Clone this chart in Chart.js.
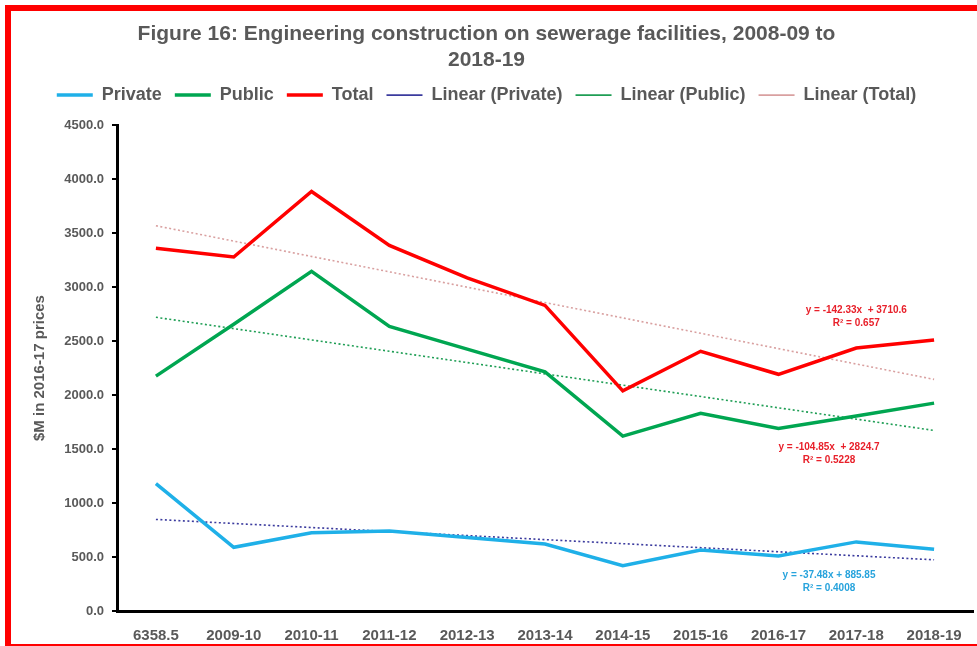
<!DOCTYPE html>
<html>
<head>
<meta charset="utf-8">
<script src="https://cdn.jsdelivr.net/npm/chart.js@4"></script>
<style>
  html, body { margin: 0; padding: 0; background: #fff; }
  body { width: 977px; height: 646px; overflow: hidden; position: relative; }
  #frame {
    position: absolute; left: 5px; top: 5px; width: 980px; height: 641px;
    border-top: 6px solid #ff0000; border-left: 6px solid #ff0000; border-bottom: 2px solid #ff0000;
    box-sizing: border-box;
  }
  #wrap { position: absolute; left: 0; top: 0; width: 977px; height: 646px; }
</style>
</head>
<body>
<div id="frame"></div>
<div id="wrap"><canvas id="chart" width="977" height="646"></canvas></div>
<script>
// categories (first label is printed that way in the source figure)
const years = ["6358.5", "2009-10", "2010-11", "2011-12", "2012-13", "2013-14",
               "2014-15", "2015-16", "2016-17", "2017-18", "2018-19"];

// $M in 2016-17 prices
const privateVals = [1180, 590, 725, 740, 680, 620, 420, 565, 510, 640, 572];
const publicVals  = [2175, 2655, 3145, 2635, 2425, 2215, 1620, 1830, 1690, 1805, 1925];
const totalVals   = [3360, 3278, 3885, 3385, 3085, 2830, 2038, 2405, 2192, 2435, 2510];

// linear trend lines: value at first and last category
const privateTrend = [848, 474];
const publicTrend  = [2720, 1672];
const totalTrend   = [3568, 2145];

// trend equations printed on the figure
const privateEq = ["y = -37.48x + 885.85", "R\u00B2 = 0.4008"];
const publicEq  = ["y = -104.85x  + 2824.7", "R\u00B2 = 0.5228"];
const totalEq   = ["y = -142.33x  + 3710.6", "R\u00B2 = 0.657"];

const yTicks = [0, 500, 1000, 1500, 2000, 2500, 3000, 3500, 4000, 4500];

const GREY = "#595959";
const FONT = "'Liberation Sans', Arial, sans-serif";

function endpoints(pair) {
  return years.map((_, i) => i === 0 ? pair[0] : (i === years.length - 1 ? pair[1] : null));
}

function lineSet(label, data, color) {
  return {
    label, data, borderColor: color, backgroundColor: color,
    borderWidth: 3.5, pointRadius: 0, tension: 0, fill: false
  };
}

function trendSet(label, pair, color) {
  return {
    label, data: endpoints(pair), borderColor: color, backgroundColor: color,
    borderWidth: 1.6, borderDash: [2, 2.5], pointRadius: 0, spanGaps: true, fill: false
  };
}

// extra room under the legend, so the plot starts lower like the original
const legendGap = {
  id: "legendGap",
  beforeUpdate(chart) {
    const lg = chart.legend;
    if (!lg || lg._gapped) return;
    const fit = lg.fit;
    lg.fit = function () {
      fit.call(this);
      this.height += 11;
    };
    lg._gapped = true;
  }
};

// draws the trend equations next to the lines
const equationLabels = {
  id: "equationLabels",
  afterDatasetsDraw(chart) {
    const { ctx, scales: { x, y } } = chart;
    const items = [
      { text: totalEq, color: "#e8202a", at: 9.0, v: 2782 },
      { text: publicEq, color: "#e8202a", at: 8.65, v: 1516 },
      { text: privateEq, color: "#27a3dc", at: 8.65, v: 333 }
    ];
    ctx.save();
    ctx.font = "bold 10px " + FONT;
    ctx.textAlign = "center";
    ctx.textBaseline = "middle";
    items.forEach(it => {
      const i0 = Math.floor(it.at);
      const px = x.getPixelForValue(i0) + (x.getPixelForValue(i0 + 1) - x.getPixelForValue(i0)) * (it.at - i0);
      ctx.fillStyle = it.color;
      ctx.fillText(it.text[0], px, y.getPixelForValue(it.v));
      ctx.fillText(it.text[1], px, y.getPixelForValue(it.v) + 13);
    });
    ctx.restore();
  }
};

new Chart(document.getElementById("chart"), {
  type: "line",
  data: {
    labels: years,
    datasets: [
      lineSet("Private", privateVals, "#1fb0e8"),
      lineSet("Public", publicVals, "#00a651"),
      lineSet("Total", totalVals, "#ff0000"),
      trendSet("Linear (Private)", privateTrend, "#3b3b9e"),
      trendSet("Linear (Public)", publicTrend, "#1f9e55"),
      trendSet("Linear (Total)", totalTrend, "#d9a0a0")
    ]
  },
  options: {
    responsive: false,
    animation: false,
    devicePixelRatio: 1,
    layout: { padding: { top: 12, right: 4, left: 0, bottom: 0 } },
    plugins: {
      title: {
        display: true,
        text: ["Figure 16: Engineering construction on sewerage facilities, 2008-09 to", "2018-19"],
        color: GREY,
        font: { family: FONT, size: 21, weight: "bold", lineHeight: 1.24 },
        padding: { top: 9, bottom: 0 }
      },
      legend: {
        position: "top",
        labels: {
          usePointStyle: true,
          pointStyle: "line",
          pointStyleWidth: 36,
          color: GREY,
          font: { family: FONT, size: 18, weight: "bold" },
          padding: 13
        }
      },
      tooltip: { enabled: false }
    },
    scales: {
      x: {
        offset: true,
        grid: { display: false },
        border: { display: true, color: "#000", width: 3 },
        ticks: { color: GREY, font: { family: FONT, size: 15, weight: "bold" }, maxRotation: 0, autoSkip: false, padding: 8 },
        afterFit(scale) { scale.height = 35; }
      },
      y: {
        min: 0,
        max: 4500,
        afterBuildTicks(scale) { scale.ticks = yTicks.map(v => ({ value: v })); },
        grid: { display: true, drawOnChartArea: false, drawTicks: true, tickLength: 5, color: "#000", lineWidth: 2 },
        border: { display: true, color: "#000", width: 3 },
        ticks: {
          color: GREY, font: { family: FONT, size: 13, weight: "bold" }, padding: 8,
          callback: v => Number(v).toFixed(1)
        },
        title: {
          display: true, text: "$M in 2016-17 prices", color: GREY,
          font: { family: FONT, size: 15, weight: "bold" }, padding: { top: 31, bottom: 0 }
        },
        afterFit(scale) { scale.width = 117; }
      }
    }
  },
  plugins: [legendGap, equationLabels]
});
</script>
</body>
</html>
